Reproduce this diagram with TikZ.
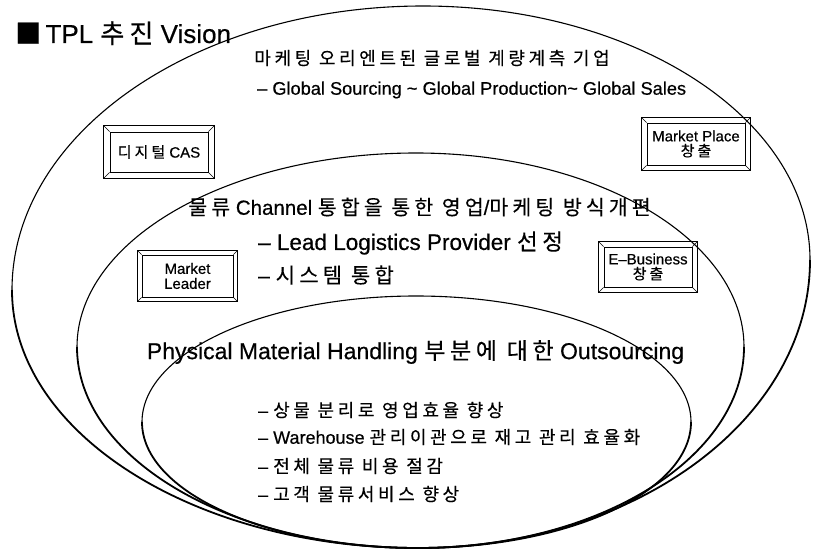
\documentclass[tikz,border=0pt]{standalone}
\usepackage{fontspec}
\setmainfont{Liberation Sans}[FakeBold=0.5]
\newfontfamily\kr{Noto Sans CJK KR}[LetterSpace=20, FakeBold=0.3]
\newcommand\fsz[1]{\fontsize{#1}{#1}\selectfont}
\newcommand\bevelframe[2]{%
  \draw[framelw] ([xshift=-#2pt,yshift=#2pt]#1.north west) rectangle ([xshift=#2pt,yshift=-#2pt]#1.south east);
  \draw[bevlw] ([xshift=-#2pt,yshift=#2pt]#1.north west) -- (#1.north west)
    ([xshift=#2pt,yshift=#2pt]#1.north east) -- (#1.north east)
    ([xshift=#2pt,yshift=-#2pt]#1.south east) -- (#1.south east)
    ([xshift=-#2pt,yshift=-#2pt]#1.south west) -- (#1.south west);}
\begin{document}
\begin{tikzpicture}[x=1pt,y=-1pt,
  rimtop/.style={line width=1.1pt},
  rimbot/.style={line width=1.8pt},
  t/.style={inner sep=0pt},
  tw/.style={inner sep=0pt, anchor=west},
  btn/.style={draw, line width=0.8pt, inner sep=0pt, align=center, font=\fsz{15}},
  framelw/.style={line width=0.7pt},
  bevlw/.style={line width=0.5pt}]
\useasboundingbox (0,0) rectangle (816,556);
% outer shape
\draw[rimtop] (12,290) arc[start angle=180, end angle=90, x radius=411pt, y radius=284pt]
  arc[start angle=90, end angle=0, x radius=387pt, y radius=254pt];
\draw[rimbot] (810,260) arc[start angle=0, end angle=-90, x radius=392pt, y radius=288pt]
  arc[start angle=-90, end angle=-180, x radius=406pt, y radius=258pt];
% middle shape
\draw[rimtop] (77,347) arc[start angle=180, end angle=90, x radius=339pt, y radius=194pt]
  arc[start angle=90, end angle=0, x radius=328pt, y radius=194pt];
\draw[rimbot] (744,347) arc[start angle=0, end angle=-90, x radius=326pt, y radius=201pt]
  arc[start angle=-90, end angle=-180, x radius=341pt, y radius=201pt];
% inner shape
\draw[rimtop] (142,422) arc[start angle=180, end angle=90, x radius=274pt, y radius=126pt]
  arc[start angle=90, end angle=0, x radius=275pt, y radius=126pt];
\draw[rimbot] (691,422) arc[start angle=0, end angle=-90, x radius=273pt, y radius=126pt]
  arc[start angle=-90, end angle=-180, x radius=276pt, y radius=126pt];

% title
\node[t, anchor=base west, font=\fsz{26}] (title) at (15,43) {{\kr ■}\,TPL {\kr 추진} Vision};

% texts
\node[t, font=\fsz{18}] (l1) at (432,58) {\kr 마케팅 오리엔트된 글로벌 계량계측 기업};
\node[tw, font=\fsz{18.2}] (l2) at (257,90) {– Global Sourcing \textasciitilde{} Global Production\textasciitilde{} Global Sales};
\node[t, font=\fsz{20.5}] (l3) at (419.5,207) {{\kr 물류} Channel {\kr 통합을 통한 영업}/{\kr 마케팅 방식개편}};
\node[tw, font=\fsz{22.5}] (l4) at (258,243) {– Lead Logistics Provider {\kr 선정}};
\node[tw, font=\fsz{21}] (l5) at (258,275) {– {\kr 시스템 통합}};
\node[t, font=\fsz{23}] (l6) at (415.5,352) {Physical Material Handling {\kr 부분에 대한} Outsourcing};
\node[tw, font=\fsz{18}] (l7) at (258,410) {– {\kr 상물 분리로 영업효율 향상}};
\node[tw, font=\fsz{18}] (l8) at (258,437) {– Warehouse {\kr 관리이관으로 재고 관리 효율화}};
\node[tw, font=\fsz{18}] (l9) at (258,466) {– {\kr 전체 물류 비용 절감}};
\node[tw, font=\fsz{18}] (l10) at (258,494) {– {\kr 고객 물류서비스 향상}};

% buttons
\node[btn, minimum width=98pt, minimum height=40pt] (cas) at (159,152) {{\kr 디지털} CAS};
\bevelframe{cas}{6}
\node[btn, minimum width=91pt, minimum height=42pt] (mleader) at (187.5,276) {Market\\Leader};
\bevelframe{mleader}{4}
\node[btn, minimum width=98pt, minimum height=42pt] (mplace) at (696,144) {Market Place\\{\kr 창출}};
\bevelframe{mplace}{5}
\node[btn, minimum width=88pt, minimum height=40pt] (ebiz) at (648,267) {E--Business\\{\kr 창출}};
\bevelframe{ebiz}{5}
\end{tikzpicture}
\end{document}
